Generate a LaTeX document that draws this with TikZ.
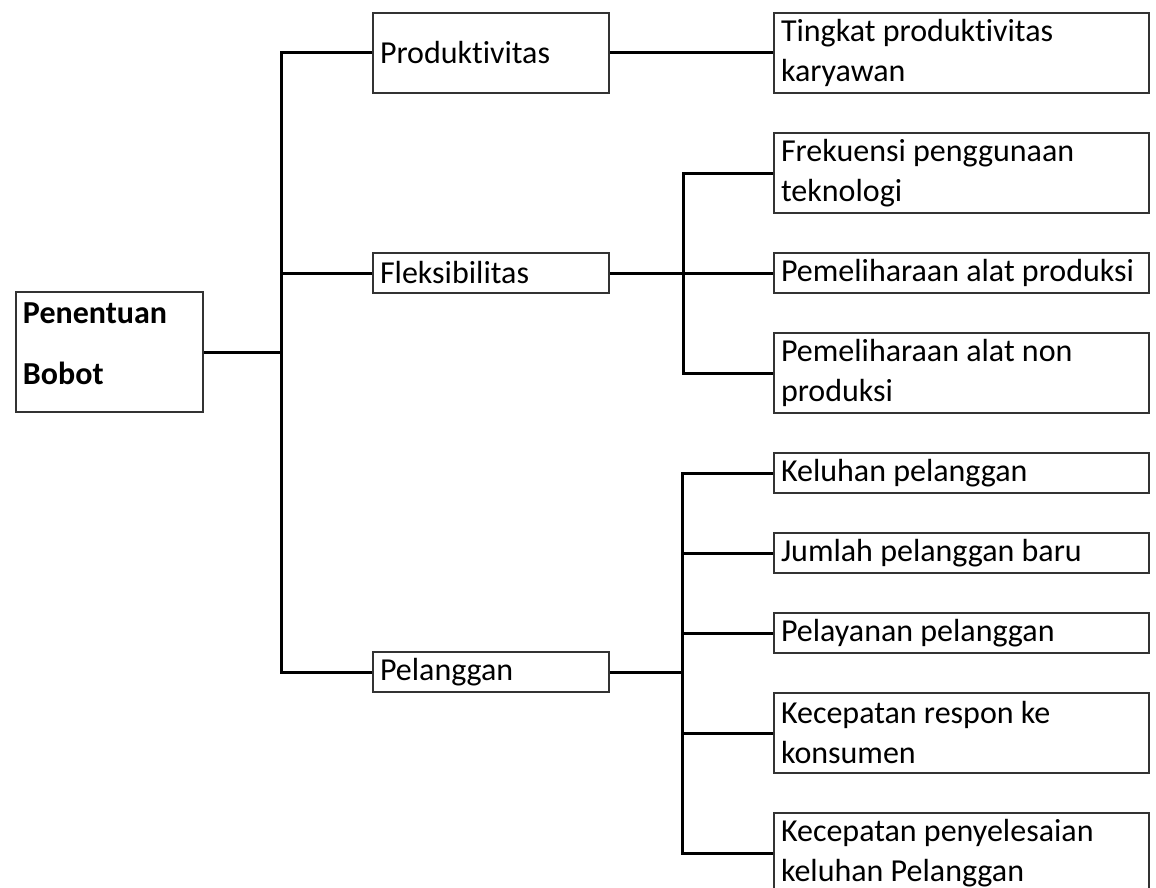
\documentclass[tikz,border=0pt]{standalone}
\usepackage{fontspec}
\setmainfont[Ligatures=NoCommon]{Carlito}
\usepackage{tikz}
\usetikzlibrary{calc}

\tikzset{
	box/.style={draw=black!80, line width=1pt, anchor=north west, align=flush left,
		inner xsep=3.5pt, inner ysep=0pt, font=\fontsize{16}{20}\selectfont},
	leftbox/.style={box, text width=86.5pt, minimum height=60pt,
		font=\fontsize{16}{30.5}\selectfont\bfseries},
	midbox/.style={box, text width=111pt},
	rightbox/.style={box, text width=180.5pt},
	one/.style={minimum height=20pt},
	two/.style={minimum height=40pt},
	link/.style={line width=1.5pt}
}

\begin{document}
\begin{tikzpicture}[x=0.5pt, y=-0.5pt]
		\useasboundingbox (0, 0) rectangle (1156, 888);
		\clip (0, 0) rectangle (1156, 888);

		\node[leftbox] (root) at (15, 291) {Penentuan\\Bobot\rule[-8pt]{0pt}{0pt}};

		\node[midbox, two] (prod) at (372, 12) {Produktivitas};
		\node[midbox, one] (fleks) at (372, 252) {Fleksibilitas};
		\node[midbox, one] (pel) at (372, 651) {Pelanggan};

		\node[rightbox, two] (ting) at (773, 12) {Tingkat produktivitas\\karyawan};
		\node[rightbox, two] (frek) at (773, 132) {Frekuensi penggunaan\\teknologi};
		\node[rightbox, one] (pemA) at (773, 252) {Pemeliharaan alat produksi};
		\node[rightbox, two] (pemB) at (773, 332) {Pemeliharaan alat non\\produksi};
		\node[rightbox, one] (kel) at (773, 452) {Keluhan pelanggan};
		\node[rightbox, one] (jum) at (773, 532) {Jumlah pelanggan baru};
		\node[rightbox, one] (pely) at (773, 612) {Pelayanan pelanggan};
		\node[rightbox, two] (kres) at (773, 692) {Kecepatan respon ke\\konsumen};
		\node[rightbox, two] (kpen) at (773, 812) {Kecepatan penyelesaian\\keluhan Pelanggan};

		\coordinate (jR) at (281, 351);
		\coordinate (jF) at (683, 272);
		\coordinate (jP) at (682, 672);

		\draw[link] (root.east) -- (root.east -| jR);
		\draw[link] (prod.west) -| (jR) |- (pel.west);
		\draw[link] (fleks.west) -- (fleks.west -| jR);

		\draw[link] (prod.east) -- (ting.west);

		\draw[link] (fleks.east) -- (pemA.west);
		\draw[link] (frek.west) -| (jF) |- (pemB.west);

		\draw[link] (pel.east) -- (jP);
		\draw[link] (kel.west) -| (jP) |- (kpen.west);
		\foreach \n in {jum, pely, kres}
			\draw[link] (\n.west) -- (\n.west -| jP);
	\end{tikzpicture}
\end{document}
